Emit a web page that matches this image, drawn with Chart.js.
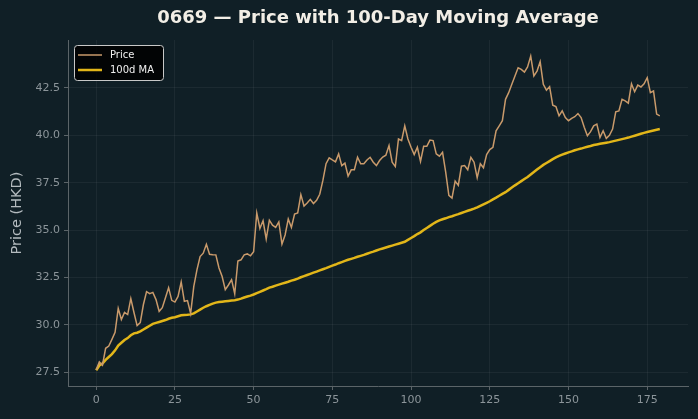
<!DOCTYPE html>
<html>
<head>
<meta charset="utf-8">
<script src="https://cdn.jsdelivr.net/npm/chart.js@4"></script>
<style>
  html, body { margin: 0; padding: 0; background: #101f26; }
  canvas { display: block; }
</style>
</head>
<body>
<canvas id="c" width="698" height="419"></canvas>
<script>
// ---------- data ----------
const days = Array.from({ length: 180 }, (_, i) => i);

const price = [
  27.62, 28.04, 27.87, 28.76, 28.88, 29.23, 29.60, 30.86, 30.28, 30.65,
  30.54, 31.38, 30.65, 29.96, 30.12, 31.07, 31.75, 31.64, 31.71, 31.33,
  30.71, 30.90, 31.43, 31.96, 31.29, 31.20, 31.50, 32.26, 31.24, 31.28,
  30.60, 32.03, 32.90, 33.60, 33.78, 34.25, 33.72, 33.70, 33.69, 33.00,
  32.55, 31.85, 32.10, 32.38, 31.64, 33.37, 33.43, 33.69, 33.74, 33.64,
  33.86, 35.90, 35.09, 35.49, 34.53, 35.52, 35.26, 35.14, 35.43, 34.26,
  34.74, 35.58, 35.14, 35.84, 35.90, 36.87, 36.27, 36.43, 36.62, 36.40,
  36.57, 36.89, 37.62, 38.50, 38.81, 38.70, 38.60, 39.02, 38.40, 38.53,
  37.85, 38.18, 38.18, 38.84, 38.50, 38.50, 38.70, 38.84, 38.58, 38.40,
  38.67, 38.85, 38.95, 39.46, 38.58, 38.35, 39.81, 39.72, 40.50, 39.81,
  39.37, 38.98, 39.37, 38.62, 39.42, 39.42, 39.75, 39.72, 39.02, 38.90,
  39.10, 38.06, 36.83, 36.69, 37.58, 37.36, 38.37, 38.40, 38.18, 38.84,
  38.58, 37.76, 38.50, 38.29, 38.98, 39.25, 39.37, 40.24, 40.50, 40.77,
  41.90, 42.25, 42.69, 43.13, 43.56, 43.48, 43.34, 43.61, 44.18, 43.13,
  43.39, 43.88, 42.69, 42.38, 42.57, 41.59, 41.52, 41.03, 41.29, 40.94,
  40.77, 40.89, 40.98, 41.15, 40.94, 40.42, 39.98, 40.19, 40.50, 40.59,
  39.89, 40.24, 39.84, 40.00, 40.33, 41.24, 41.29, 41.90, 41.82, 41.70,
  42.72, 42.30, 42.65, 42.55, 42.72, 43.04, 42.25, 42.34, 41.12, 41.03,
];

const ma100 = [
  27.60, 27.85, 27.95, 28.15, 28.30, 28.45, 28.65, 28.90, 29.05, 29.20,
  29.30, 29.45, 29.55, 29.58, 29.65, 29.75, 29.85, 29.95, 30.05, 30.10,
  30.15, 30.20, 30.25, 30.32, 30.37, 30.40, 30.45, 30.50, 30.52, 30.53,
  30.55, 30.60, 30.70, 30.80, 30.90, 30.98, 31.05, 31.12, 31.17, 31.20,
  31.22, 31.24, 31.26, 31.28, 31.30, 31.33, 31.38, 31.44, 31.49, 31.54,
  31.60, 31.67, 31.74, 31.81, 31.88, 31.96, 32.01, 32.07, 32.12, 32.17,
  32.22, 32.27, 32.33, 32.38, 32.44, 32.51, 32.57, 32.63, 32.69, 32.75,
  32.81, 32.87, 32.93, 32.99, 33.06, 33.12, 33.18, 33.25, 33.31, 33.37,
  33.43, 33.48, 33.53, 33.59, 33.64, 33.69, 33.75, 33.81, 33.86, 33.92,
  33.98, 34.03, 34.08, 34.13, 34.18, 34.23, 34.28, 34.33, 34.38, 34.48,
  34.58, 34.68, 34.79, 34.88, 35.00, 35.11, 35.22, 35.33, 35.43, 35.51,
  35.57, 35.62, 35.68, 35.73, 35.79, 35.84, 35.90, 35.96, 36.02, 36.07,
  36.13, 36.20, 36.28, 36.36, 36.44, 36.52, 36.62, 36.71, 36.81, 36.91,
  37.00, 37.12, 37.24, 37.36, 37.47, 37.58, 37.69, 37.80, 37.93, 38.06,
  38.19, 38.32, 38.44, 38.54, 38.64, 38.74, 38.83, 38.91, 38.98, 39.04,
  39.10, 39.15, 39.21, 39.26, 39.30, 39.35, 39.40, 39.44, 39.49, 39.52,
  39.55, 39.58, 39.61, 39.64, 39.68, 39.72, 39.76, 39.80, 39.84, 39.88,
  39.93, 39.98, 40.03, 40.08, 40.13, 40.17, 40.21, 40.25, 40.29, 40.33,
];

const xTicks = [0, 25, 50, 75, 100, 125, 150, 175];
const yTicks = [27.5, 30.0, 32.5, 35.0, 37.5, 40.0, 42.5];

const TITLE = "0669 — Price with 100-Day Moving Average";
const BG = "#101f26";
const PRICE_COLOR = "#c99a6b";
const MA_COLOR = "#e2b619";

// ---------- plugins ----------
const bgPlugin = {
  id: "bg",
  beforeDraw(chart) {
    const ctx = chart.ctx;
    ctx.save();
    ctx.fillStyle = BG;
    ctx.fillRect(0, 0, chart.width, chart.height);
    ctx.restore();
  },
};

// title centred over the plot area, legend drawn inside it (top-left)
const decorPlugin = {
  id: "decor",
  afterDraw(chart) {
    const ctx = chart.ctx;
    const a = chart.chartArea;
    ctx.save();
    ctx.fillStyle = "#f2eee6";
    ctx.font = "bold 18px 'DejaVu Sans', sans-serif";
    ctx.textAlign = "center";
    ctx.textBaseline = "middle";
    ctx.fillText(TITLE, (a.left + a.right) / 2, 18);

    // legend
    const x = a.left + 6, y = a.top + 5, w = 89, h = 35;
    ctx.fillStyle = "rgba(0,0,0,0.85)";
    ctx.strokeStyle = "#c8c8c8";
    ctx.lineWidth = 1;
    ctx.beginPath();
    ctx.roundRect(x + 0.5, y + 0.5, w, h, 3);
    ctx.fill();
    ctx.stroke();

    ctx.font = "10px 'DejaVu Sans', sans-serif";
    ctx.textAlign = "left";
    chart.data.datasets.forEach((ds, k) => {
      const ly = y + 10 + k * 15;
      ctx.strokeStyle = ds.borderColor;
      ctx.lineWidth = ds.borderWidth;
      ctx.beginPath();
      ctx.moveTo(x + 4, ly);
      ctx.lineTo(x + 28, ly);
      ctx.stroke();
      ctx.fillStyle = "#f0f0f0";
      ctx.fillText(ds.label, x + 36, ly);
    });
    ctx.restore();
  },
};

// ---------- chart ----------
const gridColor = "rgba(255,255,255,0.05)";
const axisColor = "#5b6468";
const tickFont = { family: "'DejaVu Sans', sans-serif", size: 11 };

new Chart(document.getElementById("c"), {
  type: "line",
  data: {
    datasets: [
      {
        label: "Price",
        data: days.map((d, i) => ({ x: d, y: price[i] })),
        borderColor: PRICE_COLOR,
        borderWidth: 1.5,
        pointRadius: 0,
        tension: 0,
      },
      {
        label: "100d MA",
        data: days.map((d, i) => ({ x: d, y: ma100[i] })),
        borderColor: MA_COLOR,
        borderWidth: 2.5,
        pointRadius: 0,
        tension: 0,
      },
    ],
  },
  options: {
    responsive: false,
    animation: false,
    devicePixelRatio: 1,
    layout: { padding: { top: 40, right: 10, left: 0, bottom: 0 } },
    plugins: {
      legend: { display: false },
      title: { display: false },
      tooltip: { enabled: false },
    },
    scales: {
      x: {
        type: "linear",
        min: -8.95,
        max: 187.95,
        afterBuildTicks: (s) => { s.ticks = xTicks.map((v) => ({ value: v })); },
        afterFit: (s) => { s.height = 33; },
        grid: { color: gridColor, tickColor: axisColor, tickLength: 4 },
        border: { color: axisColor },
        ticks: { color: "#8c959a", font: tickFont, padding: 4, maxRotation: 0 },
      },
      y: {
        type: "linear",
        min: 26.77,
        max: 45.03,
        afterBuildTicks: (s) => { s.ticks = yTicks.map((v) => ({ value: v })); },
        afterFit: (s) => { s.width = 68; },
        grid: { color: gridColor, tickColor: axisColor, tickLength: 4 },
        border: { color: axisColor },
        ticks: {
          color: "#8c959a",
          font: tickFont,
          padding: 4,
          callback: (v) => v.toFixed(1),
        },
        title: {
          display: true,
          text: "Price (HKD)",
          color: "#b4bbbf",
          font: { family: "'DejaVu Sans', sans-serif", size: 14.5 },
          padding: { top: 9, bottom: 0 },
        },
      },
    },
  },
  plugins: [bgPlugin, decorPlugin],
});
</script>
</body>
</html>
